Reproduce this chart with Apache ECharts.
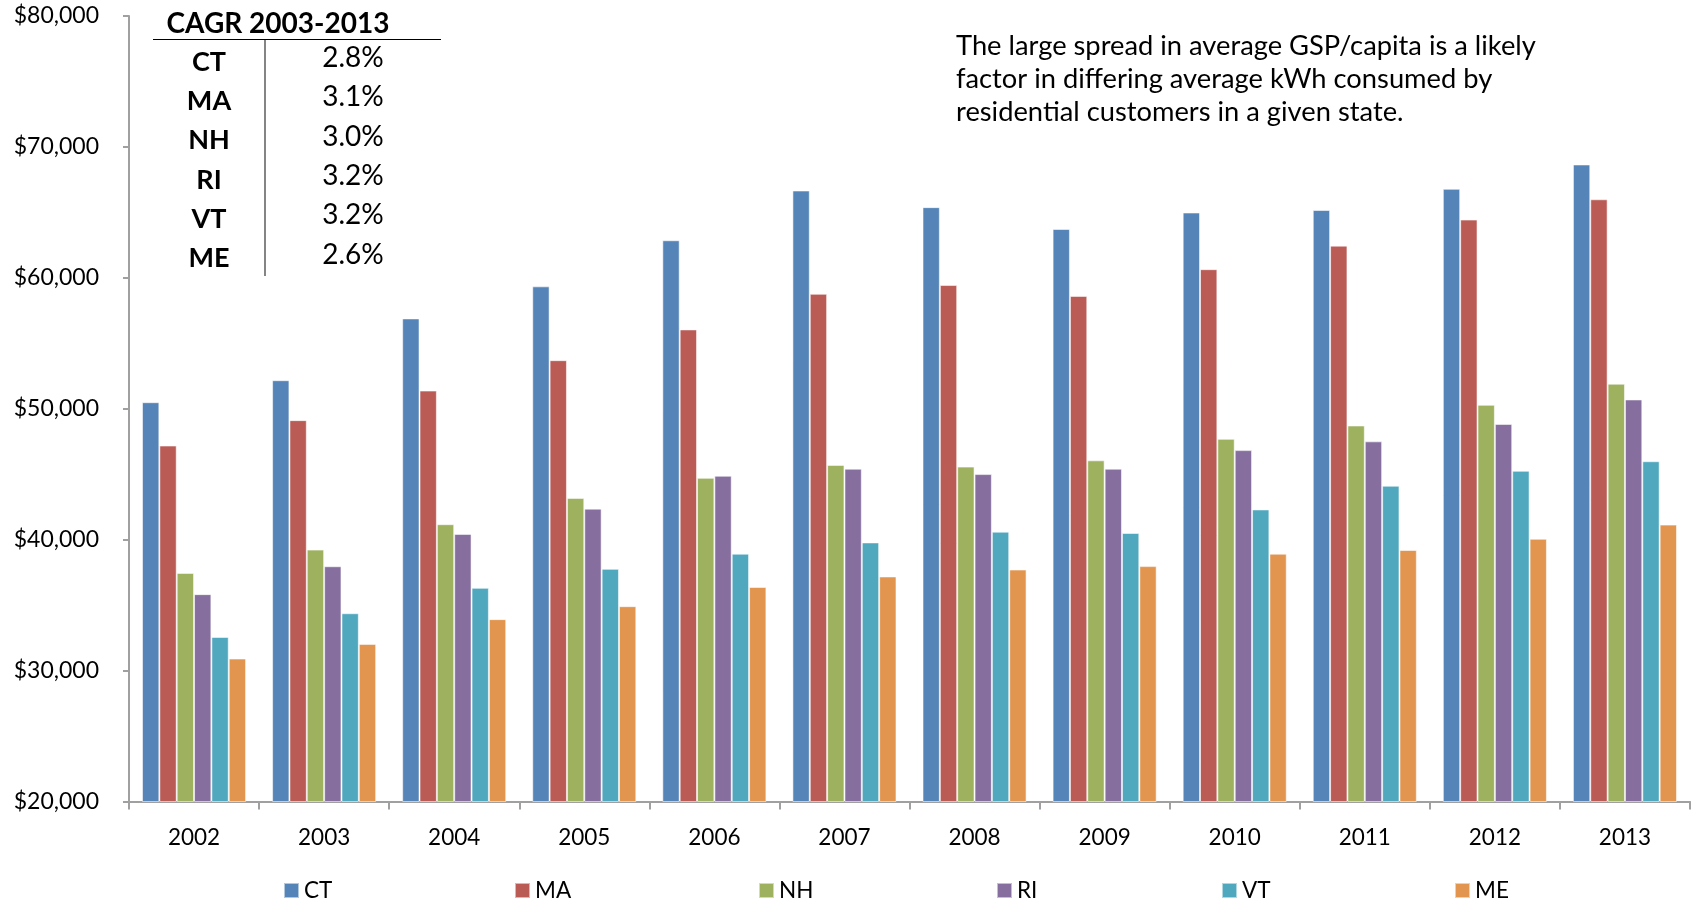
<!DOCTYPE html>
<html>
<head>
<meta charset="utf-8">
<title>GSP per capita by New England state, 2002-2013</title>
<script src="https://cdn.jsdelivr.net/npm/echarts@6/dist/echarts.min.js"></script>
<style>
  html, body { margin: 0; padding: 0; background: #ffffff; }
  #chart { width: 1696px; height: 902px; }
</style>
</head>
<body>
<div id="chart"></div>
<script>
// Gross state product per capita (USD), by year
const years = ['2002', '2003', '2004', '2005', '2006', '2007', '2008', '2009', '2010', '2011', '2012', '2013'];
const stateNames = ['CT', 'MA', 'NH', 'RI', 'VT', 'ME'];
const ctValues = [50500, 52180, 56900, 59350, 62870, 66670, 65400, 63730, 64990, 65180, 66800, 68660];
const maValues = [47190, 49130, 51390, 53710, 56060, 58780, 59450, 58620, 60660, 62460, 64450, 66000];
const nhValues = [37460, 39240, 41180, 43190, 44720, 45710, 45580, 46060, 47700, 48720, 50300, 51910];
const riValues = [35840, 37970, 40440, 42370, 44880, 45420, 45010, 45420, 46840, 47510, 48840, 50710];
const vtValues = [32570, 34380, 36320, 37770, 38930, 39790, 40610, 40510, 42310, 44120, 45260, 45990];
const meValues = [30920, 32040, 33930, 34920, 36390, 37190, 37720, 37980, 38930, 39210, 40070, 41150];

// Compound annual growth rate table
const cagrTitle = 'CAGR 2003-2013';
const cagrStates = ['CT', 'MA', 'NH', 'RI', 'VT', 'ME'];
const cagrRates = ['2.8%', '3.1%', '3.0%', '3.2%', '3.2%', '2.6%'];

const noteLines = [
  'The large spread in average GSP/capita is a likely',
  'factor in differing average kWh consumed by',
  'residential customers in a given state.'
];

const seriesValues = [ctValues, maValues, nhValues, riValues, vtValues, meValues];
const colors = ['#5585b8', '#ba5b55', '#9db15f', '#866f9f', '#50a8bf', '#e2954f'];
const legendLefts = [283, 514, 758, 996, 1221, 1454];

const FONT = 'Lato, "Open Sans", sans-serif';
const AXIS_GRAY = '#a0a0a0';

const chart = echarts.init(document.getElementById('chart'), null, { renderer: 'canvas' });

const series = stateNames.map((name, i) => ({
  name: name,
  type: 'bar',
  data: seriesValues[i],
  barGap: '0%',
  barCategoryGap: '20%',
  itemStyle: {
    color: colors[i],
    borderColor: 'rgba(255,255,255,0.55)',
    borderWidth: 1
  },
  emphasis: { disabled: true }
}));

const legends = stateNames.map((name, i) => ({
  data: [name],
  left: legendLefts[i],
  top: 879,
  padding: 0,
  itemWidth: 15,
  itemHeight: 15,
  icon: 'rect',
  textStyle: { fontFamily: FONT, fontSize: 22.5, color: '#000000' },
  selectedMode: false
}));

// CAGR table drawn as text + rule lines
const rowY0 = 61, rowStep = 39.3;
const tableGraphics = [
  {
    type: 'text', x: 278, y: 24,
    style: { text: cagrTitle, fontFamily: FONT, fontWeight: 'bold', fontSize: 28, fill: '#000',
             align: 'center', verticalAlign: 'middle' }
  },
  { type: 'line', shape: { x1: 153, y1: 39.5, x2: 441, y2: 39.5 }, style: { stroke: '#000', lineWidth: 1.2 } },
  { type: 'line', shape: { x1: 265, y1: 40, x2: 265, y2: 276 }, style: { stroke: '#333', lineWidth: 1.2 } }
];
cagrStates.forEach((st, i) => {
  tableGraphics.push({
    type: 'text', x: 209, y: rowY0 + 1 + i * rowStep,
    style: { text: st, fontFamily: FONT, fontWeight: 'bold', fontSize: 27, fill: '#000',
             align: 'center', verticalAlign: 'middle' }
  });
  tableGraphics.push({
    type: 'text', x: 353, y: rowY0 - 3 + i * rowStep,
    style: { text: cagrRates[i], fontFamily: FONT, fontSize: 28, fill: '#000',
             align: 'center', verticalAlign: 'middle' }
  });
});

const noteGraphic = {
  type: 'text', x: 956, y: 30,
  style: { text: noteLines.join('\n'), fontFamily: FONT, fontSize: 27.3, lineHeight: 33,
           fill: '#000', align: 'left', verticalAlign: 'top' }
};

chart.setOption({
  animation: false,
  color: colors,
  grid: { left: 129, right: 6, top: 16, bottom: 100.5, containLabel: false },
  legend: legends,
  xAxis: {
    type: 'category',
    data: years,
    boundaryGap: true,
    axisLine: { show: true, lineStyle: { color: AXIS_GRAY, width: 2 } },
    axisTick: { show: true, length: 8, lineStyle: { color: AXIS_GRAY, width: 2 } },
    axisLabel: { fontFamily: FONT, fontSize: 22.5, color: '#000', margin: 25 },
    splitLine: { show: false }
  },
  yAxis: {
    type: 'value',
    min: 20000,
    max: 80000,
    interval: 10000,
    axisLine: { show: true, lineStyle: { color: AXIS_GRAY, width: 2 } },
    axisTick: { show: true, length: 6, lineStyle: { color: AXIS_GRAY, width: 2 } },
    axisLabel: {
      fontFamily: FONT, fontSize: 23, color: '#000', margin: 30,
      formatter: v => '$' + v.toLocaleString('en-US')
    },
    splitLine: { show: false }
  },
  graphic: tableGraphics.concat([noteGraphic]),
  series: series
});
</script>
</body>
</html>
